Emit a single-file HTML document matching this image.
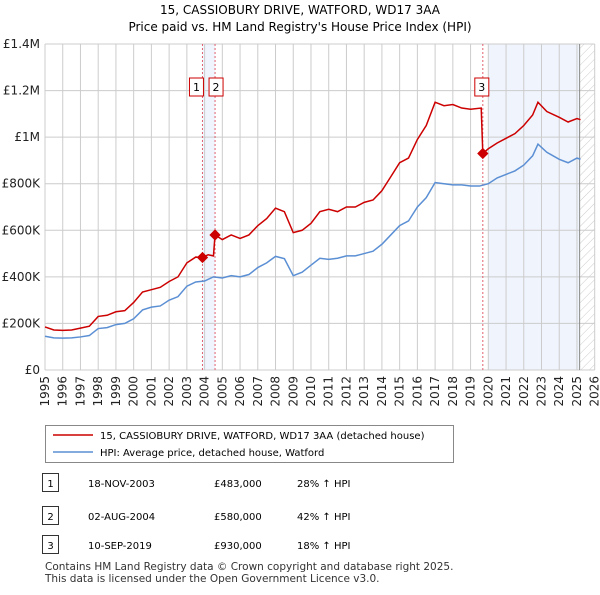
<!DOCTYPE html>
<html><head><meta charset="utf-8"><style>
body{margin:0;background:#fff;font-family:"Liberation Sans","DejaVu Sans",sans-serif;}
svg text{font-family:"DejaVu Sans","Liberation Sans",sans-serif;}
</style></head><body>
<svg id="c" width="600" height="590" xmlns="http://www.w3.org/2000/svg"></svg>
<script>
const hpiYears=[1995,1995.5,1996,1996.5,1997,1997.5,1998,1998.5,1999,1999.5,2000,2000.5,2001,2001.5,2002,2002.5,2003,2003.5,2004,2004.5,2005,2005.5,2006,2006.5,2007,2007.5,2008,2008.5,2009,2009.5,2010,2010.5,2011,2011.5,2012,2012.5,2013,2013.5,2014,2014.5,2015,2015.5,2016,2016.5,2017,2017.5,2018,2018.5,2019,2019.5,2020,2020.5,2021,2021.5,2022,2022.5,2022.8,2023.3,2024,2024.5,2025,2025.2];
const hpiValues=[145,138,137,138,142,148,178,182,195,200,220,258,270,275,300,315,360,378,382,400,395,405,400,410,440,460,488,478,405,420,450,480,475,480,490,490,500,510,540,580,620,640,700,740,805,800,795,795,790,790,800,825,840,855,880,920,970,935,905,890,910,905];
const priceYears=[1995,1995.5,1996,1996.5,1997,1997.5,1998,1998.5,1999,1999.5,2000,2000.5,2001,2001.5,2002,2002.5,2003,2003.5,2003.88,2004.2,2004.5,2004.59,2005,2005.5,2006,2006.5,2007,2007.5,2008,2008.5,2009,2009.5,2010,2010.5,2011,2011.5,2012,2012.5,2013,2013.5,2014,2014.5,2015,2015.5,2016,2016.5,2017,2017.5,2018,2018.5,2019,2019.6,2019.69,2020,2020.5,2021,2021.5,2022,2022.5,2022.8,2023.3,2024,2024.5,2025,2025.2];
const priceValues=[185,172,170,172,180,188,230,235,250,255,290,335,345,355,380,400,460,485,483,495,490,580,560,580,565,580,620,650,695,680,590,600,630,680,690,680,700,700,720,730,770,830,890,910,990,1050,1150,1135,1140,1125,1120,1125,930,950,975,995,1015,1050,1095,1150,1110,1085,1065,1080,1075];
const saleYears=[2003.88,2004.59,2019.69];
const saleValues=[483,580,930];
const saleLabels=["1","2","3"];
const yTicks=[0,200,400,600,800,1000,1200,1400];
const yTickLabels=["£0","£200K","£400K","£600K","£800K","£1M","£1.2M","£1.4M"];
const xTicks=[];for(let y=1995;y<=2026;y++)xTicks.push(y);

const svg=document.getElementById('c');const NS='http://www.w3.org/2000/svg';
const X0=45,X1=594.7,Y0=370,Y1=44;
const xs=v=>X0+(v-1995)/(2026-1995)*(X1-X0);
const ys=v=>Y0-(v/1400)*(Y0-Y1);
function el(t,a,p){const e=document.createElementNS(NS,t);for(const k in a)e.setAttribute(k,a[k]);(p||svg).appendChild(e);return e;}
function txt(x,y,s,a){const e=el('text',Object.assign({x:x,y:y},a||{}));e.textContent=s;return e;}

let t=txt(300,14,"15, CASSIOBURY DRIVE, WATFORD, WD17 3AA",{'text-anchor':'middle','font-size':12});

t=txt(300,31,"Price paid vs. HM Land Registry's House Price Index (HPI)",{'text-anchor':'middle','font-size':12});


let r=el('rect',{x:xs(saleYears[0]),y:Y1,width:xs(saleYears[1])-xs(saleYears[0]),height:Y0-Y1,fill:'#f0f4fc'});

r=el('rect',{x:xs(2020),y:Y1,width:xs(2025.15)-xs(2020),height:Y0-Y1,fill:'#f0f4fc'});

const defs=el('defs',{});const pat=el('pattern',{id:'h',width:6,height:6,patternUnits:'userSpaceOnUse',patternTransform:'rotate(45)'},defs);
el('line',{x1:0,y1:0,x2:0,y2:6,stroke:'#ccc','stroke-width':1},pat);
r=el('rect',{x:xs(2025.15),y:Y1,width:X1-xs(2025.15),height:Y0-Y1,fill:'url(#h)'});


const grid=el('g',{});
yTicks.forEach((v,i)=>{el('line',{x1:X0,x2:X1,y1:ys(v),y2:ys(v),stroke:'#ccc'},grid);
 const l=txt(40,ys(v)+4,yTickLabels[i],{'text-anchor':'end','font-size':12,fill:'#222'});
 });
xTicks.forEach(v=>{el('line',{x1:xs(v),x2:xs(v),y1:Y1,y2:Y0,stroke:'#ccc'},grid);
 const l=txt(0,0,String(v),{'text-anchor':'end','font-size':12,fill:'#222',transform:`translate(${xs(v)+4},${Y0+6}) rotate(-90)`});
 });
el('line',{x1:xs(2025.15),x2:xs(2025.15),y1:Y1,y2:Y0,stroke:'#888'});

saleYears.forEach((v,i)=>{const d=el('line',{x1:xs(v),x2:xs(v),y1:Y1,y2:Y0,stroke:'#e06070','stroke-dasharray':'2,2'});
 });

function line(xa,va,col,name){const p=el('polyline',{points:xa.map((x,i)=>xs(x)+','+ys(va[i])).join(' '),fill:'none',stroke:col,'stroke-width':1.5});
 }
line(hpiYears,hpiValues,'#5b8fd4','hpi-line');
line(priceYears,priceValues,'#cc0000','price-line');
saleYears.forEach((v,i)=>{const d=el('rect',{x:xs(v)-4,y:ys(saleValues[i])-4,width:8,height:8,fill:'#cc0000',transform:`rotate(45 ${xs(v)} ${ys(saleValues[i])})`});
 
 const bx=i==0?xs(v)-13:(i==1?xs(v)-6:xs(v)-8);
 const g=el('g',{});
 el('rect',{x:bx,y:78,width:14,height:18,fill:'#fff',stroke:'#cc0000'},g);
 txt(bx+7,91,saleLabels[i],{'text-anchor':'middle','font-size':11},g);});

const lg=el('g',{});
el('rect',{x:45.5,y:425.5,width:408,height:37,fill:'#fff',stroke:'#888'},lg);
el('line',{x1:53,x2:93,y1:435,y2:435,stroke:'#cc0000','stroke-width':1.5},lg);
txt(100,439,"15, CASSIOBURY DRIVE, WATFORD, WD17 3AA (detached house)",{'font-size':10},lg);
el('line',{x1:53,x2:93,y1:452,y2:452,stroke:'#5b8fd4','stroke-width':1.5},lg);
txt(100,456,"HPI: Average price, detached house, Watford",{'font-size':10},lg);

const rows=[["1","18-NOV-2003","£483,000","28% ↑ HPI",483],["2","02-AUG-2004","£580,000","42% ↑ HPI",516],["3","10-SEP-2019","£930,000","18% ↑ HPI",545]];
rows.forEach(rw=>{const g=el('g',{});
 el('rect',{x:42.5,y:rw[4]-9.5,width:16,height:18,fill:'#fff',stroke:'#333'},g);
 txt(50.5,rw[4]+4,rw[0],{'text-anchor':'middle','font-size':10},g);
 txt(88,rw[4]+4,rw[1],{'font-size':10},g);
 txt(214,rw[4]+4,rw[2],{'font-size':10},g);
 txt(297,rw[4]+4,rw[3],{'font-size':10},g);});
t=txt(45,570,"Contains HM Land Registry data © Crown copyright and database right 2025.",{'font-size':10.5,fill:'#333'});

t=txt(45,582,"This data is licensed under the Open Government Licence v3.0.",{'font-size':10.5,fill:'#333'});

</script>
</body></html>
